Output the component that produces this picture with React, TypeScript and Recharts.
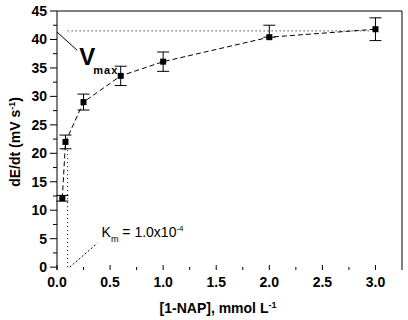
import React from 'react';
import {
  ComposedChart,
  Line,
  XAxis,
  YAxis,
  ErrorBar,
  ReferenceLine,
  ReferenceDot,
} from 'recharts';

// [1-NAP] concentrations (mmol/L) and measured rates (mV/s)
const concentrations = [0.05, 0.08, 0.25, 0.6, 1.0, 2.0, 3.0];
const rates = [12.1, 22.0, 29.0, 33.6, 36.1, 40.4, 41.8];
const rateErrors: [number, number][] = [
  [0.5, 0.5],
  [1.2, 1.2],
  [1.4, 1.4],
  [1.7, 1.7],
  [1.7, 1.7],
  [0, 2.1],
  [2.0, 2.0],
];

const xTicks = [0, 0.25, 0.5, 0.75, 1, 1.25, 1.5, 1.75, 2, 2.25, 2.5, 2.75, 3];
const yTicks = [0, 2.5, 5, 7.5, 10, 12.5, 15, 17.5, 20, 22.5, 25, 27.5, 30, 32.5, 35, 37.5, 40, 42.5, 45];

const VMAX = 41.5;
const KM = 0.1;
const X_MAX = 3.25;

const data = concentrations.map((c, i) => ({ c, rate: rates[i], err: rateErrors[i] }));

const FONT = '"Liberation Sans", Arial, sans-serif';
const PLOT_LEFT = 57;
const PLOT_BOTTOM = 270;

const YTick = (props: any) => {
  const { y, payload } = props;
  const v = payload.value as number;
  const major = v % 5 === 0;
  return (
    <g>
      <line x1={PLOT_LEFT - (major ? 7 : 4)} x2={PLOT_LEFT} y1={y} y2={y} stroke="#000" />
      {major && (
        <text x={PLOT_LEFT - 10} y={y} dy={5} textAnchor="end" fontFamily={FONT} fontWeight="bold" fontSize={14} fill="#000">
          {v}
        </text>
      )}
    </g>
  );
};

const XTick = (props: any) => {
  const { x, payload } = props;
  const v = payload.value as number;
  const major = Math.abs(v * 2 - Math.round(v * 2)) < 1e-6;
  return (
    <g>
      <line x1={x} x2={x} y1={PLOT_BOTTOM - (major ? 5 : 3)} y2={PLOT_BOTTOM} stroke="#000" />
      {major && (
        <text x={x} y={287} textAnchor="middle" fontFamily={FONT} fontWeight="bold" fontSize={14} fill="#000">
          {v.toFixed(1)}
        </text>
      )}
    </g>
  );
};

const SquareDot = (props: any) => {
  const { cx, cy } = props;
  if (cx == null || cy == null) return null;
  return <rect x={cx - 3} y={cy - 3} width={6} height={6} fill="#000" />;
};

const VmaxLabel = (props: any) => (
  <text x={props.cx} y={props.cy} fontFamily={FONT} fontWeight="bold" fill="#000">
    <tspan fontSize={24}>V</tspan>
    <tspan fontSize={11} dx={-2} dy={9} letterSpacing={1}>max</tspan>
  </text>
);

const KmLabel = (props: any) => (
  <text x={props.cx} y={props.cy} fontFamily={FONT} fontSize={14} fill="#000">
    <tspan>K</tspan>
    <tspan fontSize={9} dy={5}>m</tspan>
    <tspan dy={-5}> = 1.0x10</tspan>
    <tspan fontSize={8} dy={-6}>-4</tspan>
  </text>
);

const Empty = () => <g />;

export default function App() {
  return (
    <div style={{ position: 'fixed', left: 0, top: 0, background: '#fff' }}>
      <ComposedChart width={408} height={320} data={data} margin={{ top: 11, right: 6, left: 0, bottom: 0 }}>
        <XAxis
          dataKey="c"
          type="number"
          domain={[0, X_MAX]}
          ticks={xTicks}
          axisLine={false}
          tickLine={false}
          tick={<XTick />}
          height={50}
          interval={0}
        />
        <YAxis
          type="number"
          domain={[-0.5, 45]}
          ticks={yTicks}
          tickLine={false}
          tick={<YTick />}
          axisLine={{ stroke: '#000' }}
          width={57}
          interval={0}
        />
        <ReferenceLine y={45} stroke="#000" />
        <ReferenceLine x={X_MAX} stroke="#000" />

        {/* Vmax and Km guides */}
        <ReferenceLine segment={[{ x: KM, y: VMAX }, { x: 2.95, y: VMAX }]} stroke="#000" strokeDasharray="1 3" />
        <ReferenceLine segment={[{ x: KM, y: 0 }, { x: KM, y: VMAX / 2 }]} stroke="#000" strokeDasharray="1 3" />
        <ReferenceLine segment={[{ x: 0.05, y: VMAX / 2 }, { x: KM, y: VMAX / 2 }]} stroke="#000" strokeDasharray="1 2" />
        <ReferenceLine segment={[{ x: 0, y: 41.3 }, { x: 0.19, y: 38.1 }]} stroke="#000" />
        <ReferenceLine segment={[{ x: 0.12, y: 0 }, { x: 0.38, y: 4.2 }]} stroke="#000" strokeDasharray="2 2" />

        <ReferenceDot x={0.21} y={35.5} r={0} shape={VmaxLabel} />
        <ReferenceDot x={0.42} y={5.3} r={0} shape={KmLabel} />

        <Line
          dataKey="rate"
          type="linear"
          stroke="#000"
          strokeWidth={1}
          strokeDasharray="5 3"
          dot={<SquareDot />}
          activeDot={false}
          isAnimationActive={false}
        >
          <ErrorBar dataKey="err" direction="y" width={6} stroke="#000" strokeWidth={1} />
        </Line>

        <text x={20} y={142} transform="rotate(-90 20 142)" textAnchor="middle" fontFamily={FONT} fontWeight="bold" fontSize={14} fill="#000">
          dE/dt (mV s<tspan fontSize={9} dy={-5}>-1</tspan><tspan dy={5}>)</tspan>
        </text>
        <text x={218} y={313} textAnchor="middle" fontFamily={FONT} fontWeight="bold" fontSize={14} fill="#000">
          [1-NAP], mmol L<tspan fontSize={9} dy={-5}>-1</tspan>
        </text>
      </ComposedChart>
    </div>
  );
}
